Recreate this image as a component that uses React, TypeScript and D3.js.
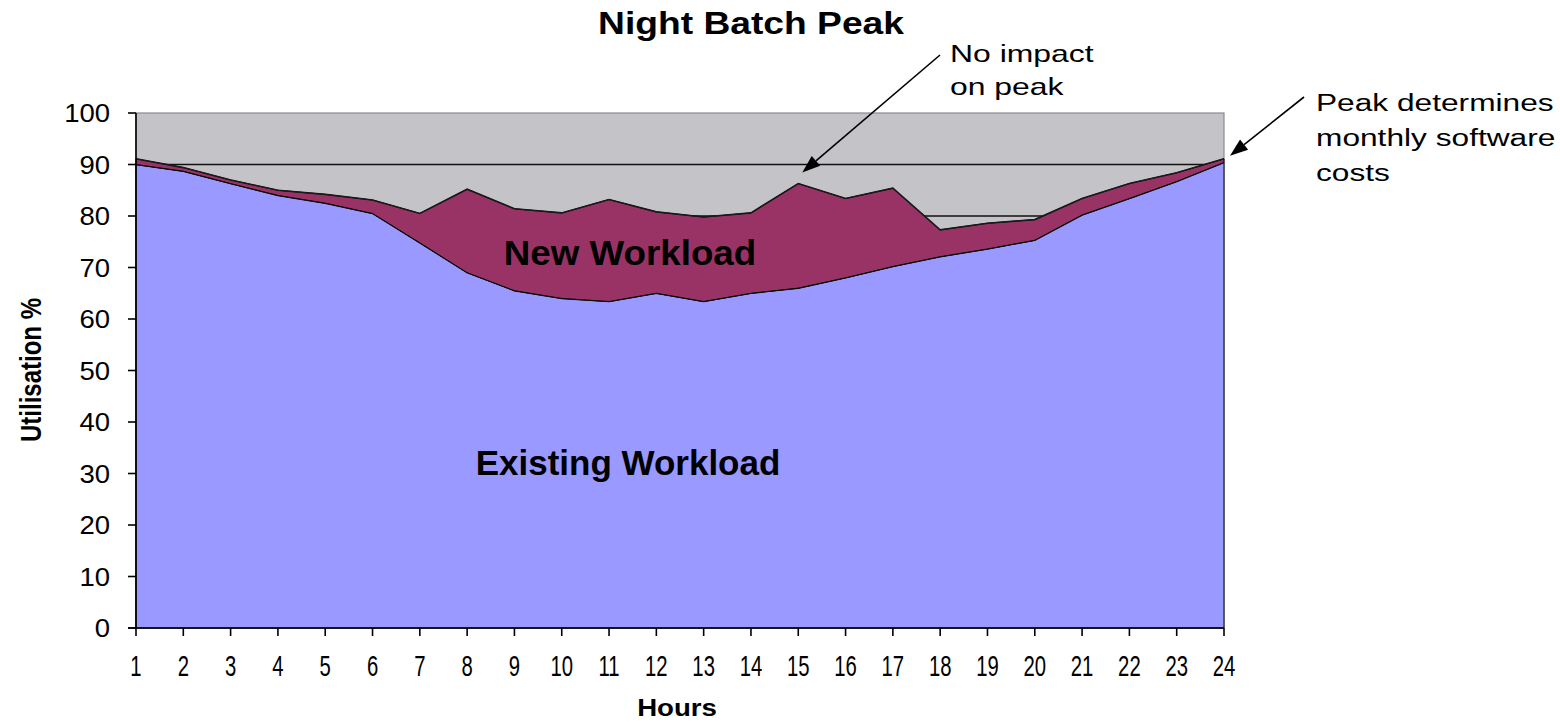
import * as d3 from 'd3'
import React from 'react'

// hours on the x axis
const hours = [1, 2, 3, 4, 5, 6, 7, 8, 9, 10, 11, 12, 13, 14, 15, 16, 17, 18, 19, 20, 21, 22, 23, 24]
// utilisation of the existing batch work
const existingWorkload = [90, 88.7, 86.3, 84, 82.5, 80.5, 74.8, 69, 65.5, 64, 63.4, 65, 63.4, 65, 66, 68, 70.2, 72.1, 73.6, 75.3, 80.2, 83.4, 86.7, 90.4]
// extra utilisation added by the new workload (stacked on top)
const newWorkload = [1.1, 0.7, 0.7, 1.0, 1.7, 2.6, 5.7, 16.2, 15.9, 16.6, 19.8, 15.8, 16.4, 15.6, 20.3, 15.4, 15.2, 5.2, 5.0, 4.0, 3.2, 2.9, 1.7, 0.7]
const yTicks = [0, 10, 20, 30, 40, 50, 60, 70, 80, 90, 100]

const W = 1560
const H = 723
const FONT = 'Arial, "Liberation Sans", sans-serif'

function Stretch({ x, y, sx, sy = 1, anchor = 'start', size, weight = 'normal', children }: any) {
    return (
        <g transform={`translate(${x},${y}) scale(${sx},${sy})`}>
            <text textAnchor={anchor} fontSize={size} fontWeight={weight} fontFamily={FONT} fill="#000">
                {children}
            </text>
        </g>
    )
}

function Arrow({ x1, y1, x2, y2 }: any) {
    const a = Math.atan2(y2 - y1, x2 - x1)
    const len = 18
    const half = 6.5
    const bx = x2 - len * Math.cos(a)
    const by = y2 - len * Math.sin(a)
    const p1 = [bx + half * Math.sin(a), by - half * Math.cos(a)]
    const p2 = [bx - half * Math.sin(a), by + half * Math.cos(a)]
    return (
        <g>
            <line x1={x1} y1={y1} x2={bx} y2={by} stroke="#000" strokeWidth={1.6} />
            <path d={`M${x2},${y2}L${p1[0]},${p1[1]}L${p2[0]},${p2[1]}Z`} fill="#000" />
        </g>
    )
}

export default function App() {
    const x = d3.scaleLinear().domain([1, 24]).range([136, 1224])
    const y = d3.scaleLinear().domain([0, 100]).range([628, 113])

    const rows = hours.map((h, i) => ({ hour: h, existing: existingWorkload[i], added: newWorkload[i] }))
    const series = d3.stack<any>().keys(['existing', 'added'])(rows)

    const area = d3
        .area<any>()
        .x((d) => x(d.data.hour))
        .y0((d) => y(d[0]))
        .y1((d) => y(d[1]))
    const topLine = d3
        .line<any>()
        .x((d) => x(d.data.hour))
        .y((d) => y(d[1]))

    const fills = ['#9999FF', '#993366']

    return (
        <svg width={W} height={H} style={{ position: 'absolute', left: 0, top: 0, background: '#fff' }}>
            {/* plot background */}
            <rect x={x(1)} y={y(100)} width={x(24) - x(1)} height={y(0) - y(100)} fill="#C4C3C7" stroke="#8C8C8C" strokeWidth={1.2} />
            {yTicks.slice(1, -1).map((t) => (
                <line key={t} x1={x(1)} x2={x(24)} y1={y(t)} y2={y(t)} stroke="#111" strokeWidth={1.6} />
            ))}

            {series.map((s, i) => (
                <g key={s.key}>
                    <path d={area(s) || ''} fill={fills[i]} stroke="#000" strokeWidth={1} />
                    <path d={topLine(s) || ''} fill="none" stroke="#1a1a1a" strokeWidth={1.6} />
                </g>
            ))}

            {/* y axis */}
            <line x1={x(1)} x2={x(1)} y1={y(100)} y2={y(0)} stroke="#000" strokeWidth={1.6} />
            {yTicks.map((t) => (
                <g key={t}>
                    <line x1={x(1) - 8} x2={x(1)} y1={y(t)} y2={y(t)} stroke="#000" strokeWidth={1.6} />
                    <Stretch x={110} y={y(t) + 9} sx={1.1} anchor="end" size={25}>
                        {t}
                    </Stretch>
                </g>
            ))}

            {/* x axis */}
            <line x1={x(1) - 8} x2={x(24)} y1={y(0)} y2={y(0)} stroke="#000" strokeWidth={1.6} />
            {hours.map((h) => (
                <g key={h}>
                    <line x1={x(h)} x2={x(h)} y1={y(0)} y2={y(0) + 8} stroke="#000" strokeWidth={1.6} />
                    <Stretch x={x(h)} y={676} sx={0.7} anchor="middle" size={29}>
                        {h}
                    </Stretch>
                </g>
            ))}

            {/* titles */}
            <Stretch x={751} y={34} sx={1.2} anchor="middle" size={31} weight="bold">
                Night Batch Peak
            </Stretch>
            <Stretch x={677} y={716} sx={1.15} anchor="middle" size={24} weight="bold">
                Hours
            </Stretch>
            <g transform="translate(41,370) rotate(-90) scale(0.96,1.15)">
                <text textAnchor="middle" fontSize={25} fontWeight="bold" fontFamily={FONT} fill="#000">
                    Utilisation %
                </text>
            </g>

            {/* area labels */}
            <Stretch x={630} y={265} sx={1.05} anchor="middle" size={35} weight="bold">
                New Workload
            </Stretch>
            <Stretch x={628} y={475} sx={1} anchor="middle" size={35} weight="bold">
                Existing Workload
            </Stretch>

            {/* annotations */}
            <Stretch x={950} y={62} sx={1.33} size={24}>
                No impact
            </Stretch>
            <Stretch x={950} y={95} sx={1.33} size={24}>
                on peak
            </Stretch>
            <Arrow x1={940} y1={55} x2={x(15) + 4} y2={y(86.3) - 11} />

            <Stretch x={1316} y={111} sx={1.32} size={24}>
                Peak determines
            </Stretch>
            <Stretch x={1316} y={146} sx={1.32} size={24}>
                monthly software
            </Stretch>
            <Stretch x={1316} y={181} sx={1.32} size={24}>
                costs
            </Stretch>
            <Arrow x1={1304} y1={97} x2={x(24) + 6} y2={y(91.1) - 3} />
        </svg>
    )
}
